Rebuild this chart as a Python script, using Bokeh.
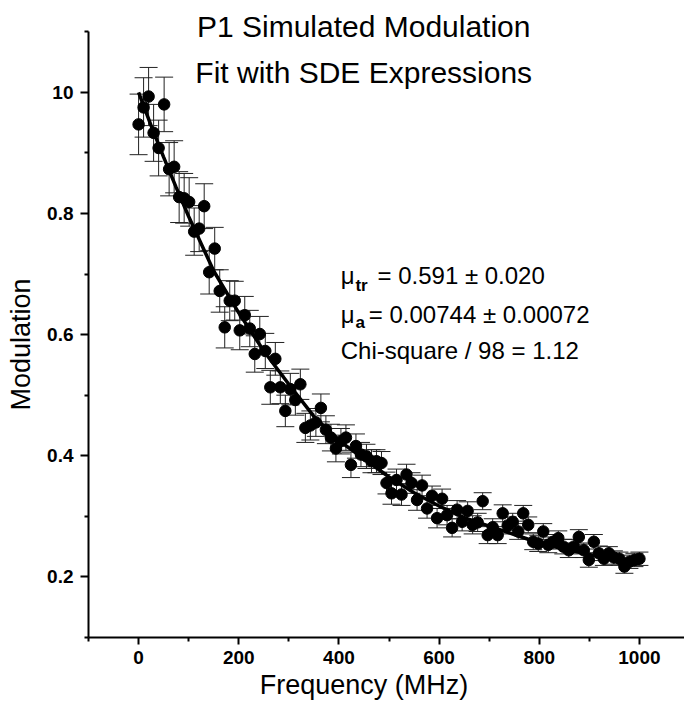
from bokeh.plotting import figure
from bokeh.models import ColumnDataSource, Whisker, TeeHead, Label, FixedTicker, PrintfTickFormatter
from bokeh.embed import file_html
from bokeh.resources import INLINE

# ---- data ----
freq = [0, 10, 20, 30, 40, 51, 61, 71, 81, 91,
        101, 111, 121, 131, 141, 152, 162, 172, 182, 192,
        202, 212, 222, 232, 242, 253, 263, 273, 283, 293,
        303, 313, 323, 333, 343, 354, 364, 374, 384, 394,
        404, 414, 424, 434, 444, 455, 465, 475, 485, 495,
        505, 515, 525, 535, 545, 556, 566, 576, 586, 596,
        606, 616, 626, 636, 646, 657, 667, 677, 687, 697,
        707, 717, 727, 737, 747, 758, 768, 778, 788, 798,
        808, 818, 828, 838, 848, 859, 869, 879, 889, 899,
        909, 919, 929, 939, 949, 960, 970, 980, 990, 1000]

modulation = [0.947, 0.975, 0.993, 0.933, 0.908, 0.980, 0.873, 0.877, 0.827, 0.825,
              0.819, 0.770, 0.775, 0.812, 0.703, 0.742, 0.672, 0.612, 0.656, 0.656,
              0.607, 0.632, 0.610, 0.568, 0.601, 0.573, 0.513, 0.560, 0.513, 0.474,
              0.510, 0.492, 0.518, 0.446, 0.450, 0.455, 0.479, 0.443, 0.430, 0.412,
              0.424, 0.430, 0.385, 0.416, 0.402, 0.399, 0.391, 0.391, 0.388, 0.355,
              0.338, 0.360, 0.336, 0.369, 0.355, 0.327, 0.351, 0.313, 0.334, 0.297,
              0.329, 0.302, 0.281, 0.311, 0.291, 0.309, 0.286, 0.290, 0.325, 0.269,
              0.282, 0.269, 0.305, 0.285, 0.291, 0.275, 0.305, 0.286, 0.258, 0.255,
              0.275, 0.253, 0.258, 0.264, 0.250, 0.244, 0.250, 0.266, 0.244, 0.228,
              0.258, 0.239, 0.230, 0.239, 0.232, 0.230, 0.217, 0.225, 0.228, 0.230]

error = [0.050, 0.049, 0.048, 0.047, 0.046, 0.045, 0.044, 0.043, 0.042, 0.041,
         0.040, 0.039, 0.038, 0.037, 0.036, 0.035, 0.035, 0.034, 0.033, 0.032,
         0.032, 0.031, 0.030, 0.030, 0.029, 0.029, 0.028, 0.027, 0.027, 0.026,
         0.026, 0.025, 0.025, 0.024, 0.024, 0.023, 0.023, 0.023, 0.022, 0.022,
         0.021, 0.021, 0.021, 0.020, 0.020, 0.020, 0.019, 0.019, 0.019, 0.018,
         0.018, 0.018, 0.018, 0.017, 0.017, 0.017, 0.017, 0.016, 0.016, 0.016,
         0.016, 0.016, 0.015, 0.015, 0.015, 0.015, 0.015, 0.015, 0.014, 0.014,
         0.014, 0.014, 0.014, 0.014, 0.014, 0.013, 0.013, 0.013, 0.013, 0.013,
         0.013, 0.013, 0.012, 0.012, 0.012, 0.012, 0.012, 0.012, 0.012, 0.012,
         0.012, 0.012, 0.011, 0.011, 0.011, 0.011, 0.011, 0.011, 0.011, 0.011]

fit_freq = [0, 25, 50, 75, 100, 150, 200, 250, 300, 350, 400, 450,
            500, 550, 600, 650, 700, 750, 800, 850, 900, 950, 1000]
fit_mod = [1.000, 0.945, 0.893, 0.843, 0.795, 0.705, 0.636, 0.573, 0.518, 0.465, 0.425, 0.395,
           0.365, 0.339, 0.317, 0.298, 0.284, 0.270, 0.256, 0.246, 0.237, 0.229, 0.222]

x_ticks = [0, 200, 400, 600, 800, 1000]
x_minor = [-100, 100, 300, 500, 700, 900]
y_ticks = [0.2, 0.4, 0.6, 0.8, 1.0]
y_minor = [0.1, 0.3, 0.5, 0.7, 0.9, 1.1]
y_tick_labels = {0.2: "0.2", 0.4: "0.4", 0.6: "0.6", 0.8: "0.8", 1.0: "10"}

title_lines = ["P1 Simulated Modulation", "Fit with SDE Expressions"]
x_label = "Frequency (MHz)"
y_label = "Modulation"

FONT = "Liberation Sans"
NBSP = "\u00a0"

upper = [m + e for m, e in zip(modulation, error)]
lower = [m - e for m, e in zip(modulation, error)]
src = ColumnDataSource(dict(x=freq, y=modulation, upper=upper, lower=lower))

p = figure(frame_width=596, frame_height=631,
           x_range=(-100, 1090), y_range=(0.1, 1.1416),
           output_backend="svg", toolbar_location=None,
           min_border_left=88, min_border_right=0, min_border_top=6, min_border_bottom=60)
p.outline_line_color = None
p.xgrid.grid_line_color = None
p.ygrid.grid_line_color = None
p.background_fill_color = "white"

# axes
for ax in (p.xaxis[0], p.yaxis[0]):
    ax.axis_line_width = 2
    ax.axis_line_color = "black"
    ax.major_tick_line_width = 2
    ax.minor_tick_line_width = 2
    ax.major_tick_line_color = "black"
    ax.minor_tick_line_color = "black"
    ax.major_tick_in = 0
    ax.minor_tick_in = 0
    ax.major_label_text_font = FONT
    ax.major_label_text_font_size = "19px"
    ax.major_label_text_font_style = "bold"
    ax.major_label_text_color = "black"
    ax.axis_label_text_font = FONT
    ax.axis_label_text_font_size = "27px"
    ax.axis_label_text_font_style = "normal"
    ax.axis_label_text_color = "black"

p.xaxis.ticker = FixedTicker(ticks=x_ticks, minor_ticks=x_minor)
p.yaxis.ticker = FixedTicker(ticks=y_ticks, minor_ticks=y_minor)
p.yaxis.formatter = PrintfTickFormatter(format="%.1f")
p.yaxis.major_label_overrides = y_tick_labels
p.yaxis.bounds = (0.1, 1.1)
p.xaxis.major_tick_out = 7
p.xaxis.minor_tick_out = 4
p.yaxis.major_tick_out = 8
p.yaxis.minor_tick_out = 4
p.xaxis.major_label_standoff = 6
p.yaxis.major_label_standoff = 7
# non-breaking padding nudges the centred axis titles to where the reference has them
p.xaxis.axis_label = x_label + NBSP * 6
p.yaxis.axis_label = y_label + NBSP * 6
p.xaxis.axis_label_standoff = 3
p.yaxis.axis_label_standoff = 8

# error bars
wh = Whisker(source=src, base="x", upper="upper", lower="lower",
             line_color="#222222", line_width=1,
             upper_head=TeeHead(size=18, line_color="#222222", line_width=1),
             lower_head=TeeHead(size=18, line_color="#222222", line_width=1))
p.add_layout(wh)

# fit curve
p.line(fit_freq, fit_mod, line_color="black", line_width=3.5)

# data points
p.scatter("x", "y", source=src, size=11.5, fill_color="black", line_color="black")

# title (two centered lines)
p.add_layout(Label(x=449.5, y=1.1084, text=title_lines[0], text_align="center",
                   text_baseline="alphabetic", text_font=FONT, text_font_size="30px",
                   text_color="black"))
p.add_layout(Label(x=449.5, y=1.0324, text=title_lines[1], text_align="center",
                   text_baseline="alphabetic", text_font=FONT, text_font_size="30px",
                   text_color="black"))

# fit results annotation
def txt(x, y, s, size="24px", style="normal"):
    p.add_layout(Label(x=x, y=y, text=s, text_align="left", text_baseline="alphabetic",
                       text_font=FONT, text_font_size=size, text_font_style=style,
                       text_color="black"))

txt(403.6, 0.6978, "\u03bc")
txt(433, 0.681, "tr", "17px", "bold")
txt(477, 0.6978, "= 0.591 \u00b1 0.020")
txt(403.6, 0.6333, "\u03bc")
txt(433, 0.620, "a", "17px", "bold")
txt(459.7, 0.6333, "= 0.00744 \u00b1 0.00072")
txt(403.6, 0.5738, "Chi-square / 98 = 1.12")

open("out.html", "w").write(file_html(p, INLINE))
